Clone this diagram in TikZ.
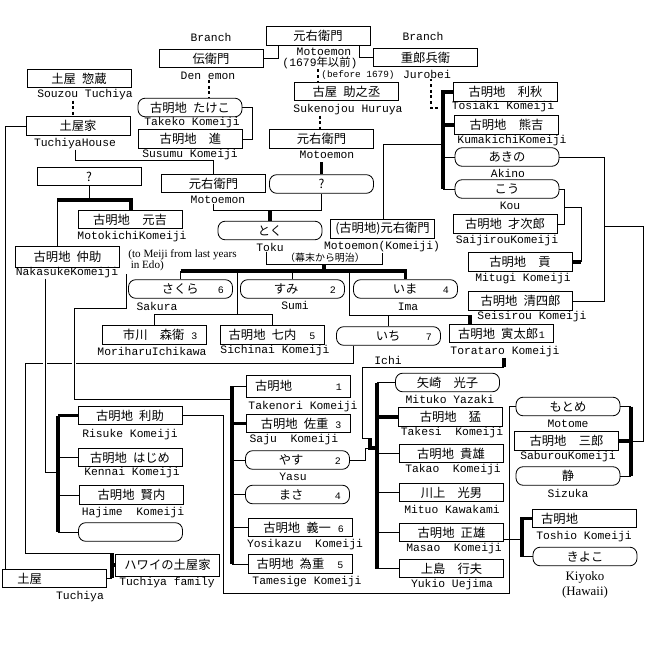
\documentclass[tikz,border=0pt]{standalone}
\usepackage{fontspec}
\setmainfont{Liberation Serif}
\setmonofont{Liberation Mono}
\newfontfamily\jp{Noto Sans CJK JP}
\setlength\parindent{0pt}
\newcommand\rk[1]{\hfill{\ttfamily\fontsize{8.5}{9}\selectfont #1}}
\tikzset{
  box/.style={draw, minimum width=3.12cm, minimum height=0.56cm, inner sep=0pt, font=\jp\fontsize{10.5}{12}\selectfont},
  rbox/.style={box, rounded corners=0.22cm},
  nbox/.style={box, text width=2.6cm, inner xsep=0.26cm, align=left},
  rnbox/.style={nbox, rounded corners=0.22cm},
  en/.style={inner sep=0pt, font=\ttfamily\fontsize{9.7}{11}\selectfont},
  heavy/.style={line width=2.6pt},
  dotline/.style={line width=2pt, dash pattern=on 2.4pt off 2.4pt},
  bridge/.style={preaction={draw, white, line width=4pt}},
}
\begin{document}
\begin{tikzpicture}[x=0.03cm, y=-0.03cm, line width=0.7pt]
\useasboundingbox (0,0) rectangle (667,653);

\node[box] (motA) at (318,36) {元右衛門};
\node[box] (denemon) at (211,58.5) {伝衛門};
\node[box] (jurobei) at (425.5,57.5) {重郎兵衛};
\node[box] (sukenojou) at (346.5,91.5) {古屋\enspace 助之丞};
\node[rbox] (takeko) at (190,107.5) {古明地\enspace たけこ};
\node[box] (susumu) at (190.5,139) {古明地\quad 進};
\node[box] (souzou) at (79,78.5) {土屋\enspace 惣蔵};
\node[box] (tuchiyaH) at (78,126) {土屋家};
\node[box] (motB) at (321.5,139) {元右衛門};
\node[box] (qL) at (89,176.5) {?};
\node[box] (motC) at (213.5,183.5) {元右衛門};
\node[rbox] (qR) at (321.5,184) {?};
\node[box] (motokichi) at (130,219.5) {古明地\quad 元吉};
\node[box, minimum height=0.63cm] (nakasuke) at (67.5,256.5) {古明地\enspace 仲助};
\node[rbox] (toku) at (270,230.5) {とく};
\node[box] (motK) at (382.5,229) {(古明地)元右衛門};
\node[rnbox] (sakura) at (180.5,289) {\qquad さくら\rk{6}};
\node[rnbox] (sumi) at (292.5,289) {\qquad すみ\rk{2}};
\node[rnbox] (ima) at (405.5,289) {\qquad\enspace いま\rk{4}};
\node[nbox] (moriharu) at (154,335) {\quad 市川\quad 森衛\rk{3}};
\node[nbox] (sichinai) at (272,335) {古明地\enspace 七内\rk{5}};
\node[rnbox] (ichi) at (388.5,336) {\qquad\enspace いち\rk{7}};
\node[nbox] (toratarou) at (501.5,333.5) {古明地\enspace 寅太郎\rk{1}};
\node[box] (tosiaki) at (505.5,92) {古明地\quad 利秋};
\node[box] (kumakichi) at (506.5,125) {古明地\quad 熊吉};
\node[rbox] (akino) at (507,157) {あきの};
\node[rbox] (kou) at (507,189) {こう};
\node[box] (saijirou) at (505,224) {古明地\enspace 才次郎};
\node[box] (mitugi) at (520,262) {古明地\quad 貢};
\node[box] (seisirou) at (520.5,301) {古明地\enspace 清四郎};
\node[nbox, minimum height=0.66cm] (takenori) at (298.5,386) {古明地\rk{1}};
\node[nbox] (saju) at (298,423.5) {\enspace 古明地\enspace 佐重\rk{3}};
\node[rnbox] (yasu) at (297.5,460) {\qquad やす\rk{2}};
\node[rnbox] (masa) at (297.5,494.5) {\qquad まさ\rk{4}};
\node[nbox] (yosikazu) at (300.5,527.5) {\enspace 古明地\enspace 義一\rk{6}};
\node[nbox] (tamesige) at (300,564) {古明地\enspace 為重\rk{5}};
\node[box] (risuke) at (130,415.5) {古明地\enspace 利助};
\node[box] (hajime) at (130,457.5) {古明地\enspace はじめ};
\node[box] (kennai) at (131.5,495) {古明地\enspace 賢内};
\node[rbox] (blank) at (130.5,532) {};
\node[box, minimum height=0.66cm] (hawaii) at (167.5,565) {ハワイの土屋家};
\node[nbox] (tuchiya) at (54.5,578.5) {\enspace 土屋};
\node[rbox] (mituko) at (447.5,382.5) {矢崎\quad 光子};
\node[box] (takesi) at (450.5,417) {古明地\quad 猛};
\node[box] (takao) at (451,453.5) {古明地\enspace 貴雄};
\node[box] (mituo) at (451.5,492.5) {川上\quad 光男};
\node[box] (masao) at (451.5,532.5) {古明地\enspace 正雄};
\node[box] (yukio) at (451.5,568.5) {上島\quad 行夫};
\node[rbox] (motome) at (568,406.5) {もとめ};
\node[box] (saburou) at (566.5,441) {古明地\quad 三郎};
\node[rbox] (sizuka) at (568,476) {静};
\node[nbox] (toshio) at (584.5,518.5) {古明地};
\node[rbox] (kiyoko) at (585,556.5) {きよこ};

\node[en] (branchL) at (211,37) {Branch};
\node[en] (branchR) at (423,36) {Branch};
\node[en] (motAT) at (324,52) {Motoemon};
\node[en] (motAyr) at (320,63) {(1679{\jp 年以前})};
\node[en, font=\ttfamily\fontsize{8}{9}\selectfont] (before) at (358,75) {(before 1679)};
\node[en] (denemonT) at (208,76) {Den emon};
\node[en] (jurobeiT) at (427,74) {Jurobei};
\node[en] (souzouT) at (85,95) {Souzou Tuchiya};
\node[en] (tuchiyaHT) at (75,144) {TuchiyaHouse};
\node[en] (takekoT) at (192,123) {Takeko Komeiji};
\node[en] (susumuT) at (190,155) {Susumu Komeiji};
\node[en] (sukenojouT) at (348,110) {Sukenojou Huruya};
\node[en] (motBT) at (327,155) {Motoemon};
\node[en] (motCT) at (218,200) {Motoemon};
\node[en] (motokichiT) at (132,237) {MotokichiKomeiji};
\node[en] (nakasukeT) at (67,273) {NakasukeKomeiji};
\node[en] (tokuT) at (270,247) {Toku};
\node[en] (motKT) at (382,247) {Motoemon(Komeiji)};
\node[inner sep=0pt, font=\jp\fontsize{8.5}{10}\selectfont] (era) at (325,258) {（幕末から明治）};
\node[anchor=north west, inner sep=0pt, align=left, font=\fontsize{9.5}{8.5}\selectfont] (note) at (128,249) {(to Meiji from last years\\\hspace*{2pt}in Edo)};
\node[en] (sakuraT) at (157,306) {Sakura};
\node[en] (sumiT) at (295,305) {Sumi};
\node[en] (imaT) at (408,307) {Ima};
\node[en] (moriharuT) at (152,351) {MoriharuIchikawa};
\node[en] (sichinaiT) at (275,351) {Sichinai Komeiji};
\node[en] (ichiT) at (388,360) {Ichi};
\node[en] (toratarouT) at (505,352) {Torataro Komeiji};
\node[en] (tosiakiT) at (503,107) {Tosiaki Komeiji};
\node[en] (kumakichiT) at (512,141) {KumakichiKomeiji};
\node[en] (akinoT) at (508,173) {Akino};
\node[en] (kouT) at (510,206) {Kou};
\node[en] (saijirouT) at (507,241) {SaijirouKomeiji};
\node[en] (mitugiT) at (523,279) {Mitugi Komeiji};
\node[en] (seisirouT) at (532,317) {Seisirou Komeiji};
\node[en] (takenoriT) at (303,407) {Takenori Komeiji};
\node[en] (sajuT) at (294,440) {Saju~~Komeiji};
\node[en] (yasuT) at (293,477) {Yasu};
\node[en] (yosikazuT) at (305,545) {Yosikazu~~Komeiji};
\node[en] (tamesigeT) at (307,582) {Tamesige Komeiji};
\node[en] (risukeT) at (130,435) {Risuke Komeiji};
\node[en] (kennaiT) at (132,473) {Kennai Komeiji};
\node[en] (hajimeT) at (133,513) {Hajime~~Komeiji};
\node[en] (hawaiiT) at (167,583) {Tuchiya family};
\node[en] (tuchiyaT) at (80,597) {Tuchiya};
\node[en] (mitukoT) at (450,399) {Mituko Yazaki};
\node[en] (takesiT) at (452,433) {Takesi~~Komeiji};
\node[en] (takaoT) at (453,470) {Takao~~Komeiji};
\node[en] (mituoT) at (452,509) {Mituo Kawakami};
\node[en] (masaoT) at (454,549) {Masao~~Komeiji};
\node[en] (yukioT) at (452,585) {Yukio Uejima};
\node[en] (motomeT) at (568,424) {Motome};
\node[en] (saburouT) at (568,457) {SaburouKomeiji};
\node[en] (sizukaT) at (568,493) {Sizuka};
\node[en] (toshioT) at (584,537) {Toshio Komeiji};
\node[inner sep=0pt, font=\fontsize{11}{12}\selectfont] (kiyokoT) at (585,577) {Kiyoko};
\node[inner sep=0pt, font=\fontsize{11}{12}\selectfont] (hawaiiK) at (585,592) {(Hawaii)};

\draw (ichi.south -| 353,0) |- (25,363) |- (112,553);
\draw[bridge] (nakasukeT.south -| 45,0) |- (58,472);
\draw[bridge] (note.south west) ++(-2,3) |- (74,308) |- (232,399);

\draw (denemon.east) -| (motA.south -| 278,0);
\draw (motA.south -| 359,0) |- (jurobei.west);
\draw[dotline] (motAyr.south -| 318,0) -- (sukenojou.north -| 318,0);
\draw[dotline] (sukenojouT.south -| 320,0) -- (motB.north -| 320,0);
\draw[dotline] (denemonT.south -| 209,0) -- (takeko.north -| 209,0);
\draw[dotline] (souzouT.south -| 73,0) -- (tuchiyaH.north -| 73,0);
\draw[dotline] (jurobeiT.south -| 431,0) |- (443,108);
\draw (takeko.east) -- ++(10,0) |- (susumu.east);
\draw (tuchiyaH.west) -| (tuchiya.north -| 5,0);
\draw (tuchiyaHT.south) -- ++(0,11) -| (motC.north);
\draw[heavy] (qR.north) -- ++(0,-12);
\draw (qL.south) -- ++(0,14);
\draw (nakasuke.north -| 57,0) -- (57,200);
\draw[heavy] (57,200) -| (motokichi.north -| 131,0);
\draw (motCT.south -| motC.south) -- ++(0,6) -| (qR.south);
\draw[heavy] (toku.north) -- ++(0,-10);
\draw (tokuT.south -| 266,0) -- ++(0,13) -| (motKT.south);

\coordinate (bar) at (324,271);
\draw[heavy] (bar) -- ++(0,-6);
\draw[heavy] (sakura.north |- bar) -- (bar -| ima.north) -- (ima.north);
\draw (sakura.north) -- (sakura.north |- bar);
\draw (sumi.north) -- (sumi.north |- bar);
\draw (bar -| 237,0) -- (237,315);
\draw (moriharu.north) -- ++(0,-11) -| (sichinai.north);
\draw (bar -| 349,0) |- (470,315);
\draw[heavy] (470,315) -- (toratarou.north -| 470,0);
\draw (ichi.north) -- (ichi.north |- 0,315);

\draw[heavy] (tosiaki.west) -| (443,189);
\draw[heavy] (kumakichi.west) -- (kumakichi.west -| 443,0);
\foreach \n in {akino,kou} \draw (\n.west) -- (\n.west -| 443,0);
\draw (motK.north -| 383,0) |- (443,144);
\draw (akino.east) -| (seisirou.east -| 604,0) -- (seisirou.east);
\draw (kou.east) -- ++(5,0) |- (saijirou.east);
\draw (564,207) -| (581,262);
\draw[heavy] (581,262) -- (mitugi.east);

\draw[heavy] (takenori.west -| 232,0) -- (tamesige.west -| 232,0);
\foreach \n in {takenori,yasu,masa,yosikazu,tamesige} \draw (\n.west) -- (\n.west -| 232,0);
\draw[heavy] (saju.west) -- (saju.west -| 232,0);

\draw[heavy] (risuke.west -| 58,0) -- (blank.west -| 58,0);
\draw[heavy] (risuke.west) -- (risuke.west -| 58,0);
\foreach \n in {hajime,kennai,blank} \draw (\n.west) -- (\n.west -| 58,0);
\draw (risuke.east) -| (223,593) -| (motome.west -| 509,0) -- (motome.west);

\draw[heavy] (112,553) -- (112,578);
\draw[heavy] (hawaii.west) -- (hawaii.west -| 112,0);
\draw (tuchiya.east) -- (tuchiya.east -| 112,0);

\draw[heavy] (toratarouT.south -| 504,0) -- (504,367);
\draw (504,367) -| (362,438) -- (370,438);
\draw[heavy] (370,438) |- (377,448);
\draw (yasu.east) -| (365,448) -- (370,448);

\draw[heavy] (mituko.west -| 377,0) -- (yukio.west -| 377,0);
\foreach \n in {mituko,takao,mituo,masao,yukio} \draw (\n.west) -- (\n.west -| 377,0);
\draw[heavy] (takesi.west) -- (takesi.west -| 377,0);

\coordinate (toshioJ) at (522,539);
\draw (masao.east |- toshioJ) -- (toshioJ);
\draw[heavy] (toshio.west) -| (kiyoko.west -| 522,0);
\draw (kiyoko.west) -- (kiyoko.west -| 522,0);

\draw[heavy] (motome.east -| 631,0) -- (sizuka.east -| 631,0);
\foreach \n in {motome,sizuka} \draw (\n.east) -- (\n.east -| 631,0);
\draw[heavy] (saburou.east) -- (saburou.east -| 631,0);
\draw (saburou.east -| 631,0) -| (643,226) -- (604,226);
\end{tikzpicture}
\end{document}
